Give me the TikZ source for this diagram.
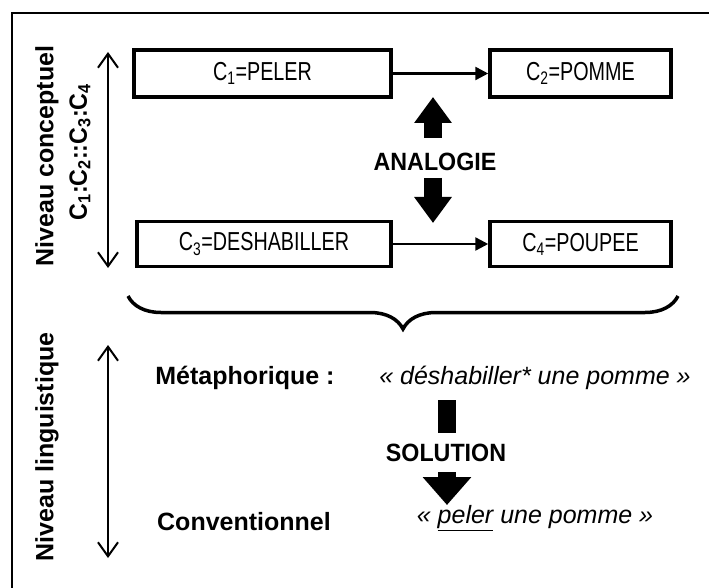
\documentclass[tikz,border=0pt]{standalone}
\usepackage{fontspec}
\setmainfont{Liberation Sans}
\newfontfamily\condfont[FakeStretch=0.76]{Liberation Sans}
\newfontfamily\capsfont[FakeStretch=0.93]{Liberation Sans}
\usetikzlibrary{arrows.meta}
\usetikzlibrary{decorations.pathreplacing}
\newcommand{\conc}[1]{C\textsubscript{#1}}
\tikzset{
    every node/.style={inner sep=0pt, font=\fontsize{25}{29}\selectfont},
    concept/.style={draw, line width=3.5pt, font=\condfont\fontsize{26}{30}\selectfont},
    label bold/.style={font=\bfseries\fontsize{25}{29}\selectfont},
    label caps/.style={font=\capsfont\bfseries\fontsize{25}{29}\selectfont},
    label quote/.style={font=\itshape\fontsize{25}{29}\selectfont}
}

\begin{document}
\begin{tikzpicture}[
            x = 1pt, y = -1pt, % pixel units, origin top left
            > = {Triangle[length=13pt, width=13pt]}, % arrow head style
            level/.style = {line width=2pt, {Straight Barb[length=14pt, width=20pt]}-{Straight Barb[length=14pt, width=20pt]}},
            block/.style = {line width=18pt, -{Triangle[length=26pt, width=36pt]}}
        ]

        \useasboundingbox (0,0) rectangle (709,588);
        \draw[line width=2pt] (709,13) -| (12,588);

        % conceptual level
        \node[concept, minimum width=257pt, minimum height=47pt] (c1) at (262.5,73.5) {\conc{1}=PELER};
        \node[concept, minimum width=181pt, minimum height=47pt] (c2) at (580.5,73.5) {\conc{2}=POMME};
        \node[concept, minimum width=254pt, minimum height=45pt] (c3) at (264,244) {\conc{3}=DESHABILLER};
        \node[concept, minimum width=181pt, minimum height=45pt] (c4) at (580.5,244) {\conc{4}=POUPEE};

        \path[->, line width=2.5pt] (c1) edge (c2);
        \path[->, line width=2.5pt] (c3) edge (c4);

        \node[label caps] (analogie) at (435,162) {ANALOGIE};
        \coordinate (upfoot) at (433,138);
        \coordinate (uptip) at (433,97);
        \coordinate (downfoot) at (433,178);
        \coordinate (downtip) at (433,223);
        \draw[block] (upfoot) -- (uptip);
        \draw[block] (downfoot) -- (downtip);

        \node[label bold, rotate=90] (nivc) at (47,156) {Niveau conceptuel};
        \node[label caps, rotate=90] (prop) at (80,152) {\conc{1}:\conc{2}::\conc{3}:\conc{4}};
        \coordinate (ctop) at (108,52);
        \coordinate (cbot) at (108,268);
        \draw[level] (ctop) -- (cbot);

        \coordinate (bl) at (128,296);
        \coordinate (br) at (678,296);
        \draw[line width=3.5pt, decorate, decoration={brace, mirror, amplitude=33pt}] (bl) -- (br);

        % linguistic level
        \node[label bold, rotate=90] (nivl) at (47,447) {Niveau linguistique};
        \coordinate (ltop) at (108,345);
        \coordinate (lbot) at (108,558);
        \draw[level] (ltop) -- (lbot);

        \node[label bold] (meta) at (245,378) {Métaphorique~:};
        \node[label bold] (conv) at (244,522) {Conventionnel};
        \node[label quote] (q1) at (535,378) {« déshabiller*  une pomme »};
        \node[label quote] (q2) at (535,518) {« \underline{peler} une pomme »};

        \node[label caps] (solution) at (446,453) {SOLUTION};
        \coordinate (stop) at (447,400);
        \coordinate (smid) at (447,433);
        \coordinate (sfoot) at (447,472);
        \coordinate (stip) at (447,505);
        \draw[line width=18pt] (stop) -- (smid);
        \draw[block, -{Triangle[length=28pt, width=47pt]}] (sfoot) -- (stip);

\end{tikzpicture}
\end{document}
